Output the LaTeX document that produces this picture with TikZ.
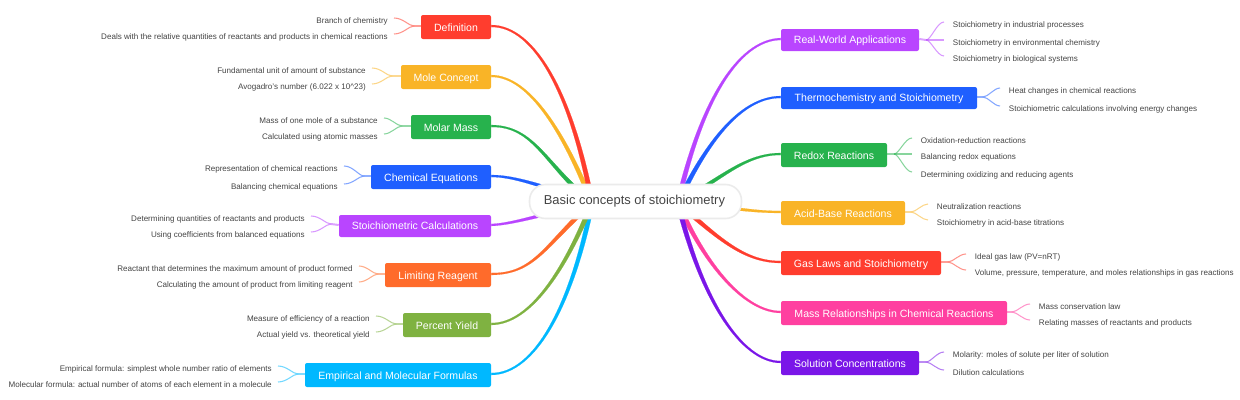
\documentclass[tikz,border=0pt]{standalone}
\usepackage{fontspec}
\setmainfont{Liberation Sans}
\definecolor{cRed}{HTML}{FF3D2E}
\definecolor{cYellow}{HTML}{F9B427}
\definecolor{cGreen}{HTML}{27B24D}
\definecolor{cBlue}{HTML}{1F5FFF}
\definecolor{cPurple}{HTML}{B945FF}
\definecolor{cOrange}{HTML}{FF6B2B}
\definecolor{cOlive}{HTML}{7FB241}
\definecolor{cCyan}{HTML}{00B8FF}
\definecolor{cPink}{HTML}{FF40A0}
\definecolor{cViolet}{HTML}{7A16E8}
\definecolor{cText}{HTML}{444444}
\tikzset{
  branchbox/.style={rectangle,rounded corners=1.5pt,fill=#1,text=white,inner sep=0pt,
    font=\fontsize{7.9pt}{10pt}\selectfont,text height=7.8pt,text depth=1.7pt},
  leafL/.style={anchor=east,inner ysep=0pt,inner xsep=4.5pt,text=cText,
    font=\fontsize{6.05pt}{8pt}\selectfont,text height=5.8pt,text depth=1.3pt},
  leafR/.style={anchor=west,inner ysep=0pt,inner xsep=6.5pt,text=cText,
    font=\fontsize{6.05pt}{8pt}\selectfont,text height=5.8pt,text depth=1.3pt},
  spine/.style={line width=.1pt},
  stem/.style={line width=1.5pt,opacity=.5},
  twig/.style={line width=.8pt,opacity=.55},
  rootbox/.style={rectangle,rounded corners=12pt,fill=white,draw=black!8,line width=1.2pt,
    text=cText,font=\fontsize{9.7pt}{13pt}\selectfont,inner sep=0pt}
}
% box: name, colour, x1, x2, y1, y2, text
\newcommand\bbox[7]{\node[branchbox=#2,minimum width=#4*.75pt-#3*.75pt,minimum height=#6*.75pt-#5*.75pt]
  (#1) at ({(#3+#4)/2},{(#5+#6)/2}) {#7};}
\newcommand\stemL[4]{\draw[stem,#2] ([yshift=.75pt]#1.west) -- (#3,#4);}
\newcommand\stemR[4]{\draw[stem,#2] ([yshift=.75pt]#1.east) -- (#3,#4);}
\newcommand\twigL[5]{\draw[twig,#1] (#2,#3) .. controls (#2-5,#3) and (#2-11,#4) .. ([yshift=1.5pt]#5.east);}
\newcommand\twigR[5]{\draw[twig,#1] (#2,#3) .. controls (#2+5,#3) and (#2+11,#4) .. ([yshift=1.5pt]#5.west);}
% tapered main connector: colour, start node anchor, c1x, c1y, c2x, c2y, hub name, hub x, hub y
\newcommand\spineT[9]{%
  \pgfmathsetmacro\sgn{(#5>#3)?-1:1}%
  \pgfmathsetmacro\dxv{#8-#5}\pgfmathsetmacro\dyv{#9-#6}%
  \pgfmathsetmacro\lenv{max(veclen(\dxv,\dyv),.01)}%
  \pgfmathsetmacro\nxv{-\sgn*\dyv/\lenv*2.5}\pgfmathsetmacro\nyv{\sgn*\dxv/\lenv*2.5}%
  \pgfmathsetmacro\cxa{#5+.62*\nxv}\pgfmathsetmacro\cya{#6+.62*\nyv}%
  \pgfmathsetmacro\cxb{#5-.62*\nxv}\pgfmathsetmacro\cyb{#6-.62*\nyv}%
  \pgfmathsetmacro\dxu{#5-#3}\pgfmathsetmacro\dyu{#6-#4}%
  \pgfmathsetmacro\lenu{max(veclen(\dxu,\dyu),.01)}%
  \pgfmathsetmacro\nxu{-\sgn*\dyu/\lenu*1.1}\pgfmathsetmacro\nyu{\sgn*\dxu/\lenu*1.1}%
  \draw[spine,draw=#1,fill=#1] ([shift={(0,-2.0)}]#2) .. controls (#3+\nxu,#4+\nyu) and (\cxa,\cya) .. ([shift={(\nxv,\nyv)}]#7)
    -- ([shift={(-\nxv,-\nyv)}]#7) .. controls (\cxb,\cyb) and (#3-\nxu,#4-\nyu) .. ([shift={(0,0)}]#2) -- cycle;}
\begin{document}
\begin{tikzpicture}[x=.75pt,y=-.75pt]
\useasboundingbox (0,0) rectangle (1240,400);
\coordinate (hubL) at (592,203);
\coordinate (hubR) at (678,203);
% boxes
\bbox{def}{cRed}{421}{491}{15}{39}{Definition}
\bbox{mole}{cYellow}{401}{491}{65}{89}{Mole Concept}
\bbox{molar}{cGreen}{411}{491}{115}{139}{Molar Mass}
\bbox{chem}{cBlue}{371}{491}{165}{189}{Chemical Equations}
\bbox{calc}{cPurple}{339}{491}{215}{237}{\raisebox{.75pt}{Stoichiometric Calculations}}
\bbox{limit}{cOrange}{385}{491}{263}{287}{Limiting Reagent}
\bbox{yield}{cOlive}{403}{491}{313}{337}{Percent Yield}
\bbox{emp}{cCyan}{305}{491}{363}{387}{Empirical and Molecular Formulas}
\bbox{real}{cPurple}{781}{919}{29}{51}{\raisebox{.75pt}{Real-World Applications}}
\bbox{thermo}{cBlue}{781}{977}{87}{109}{\raisebox{.75pt}{Thermochemistry and Stoichiometry}}
\bbox{redox}{cGreen}{781}{887}{143}{167}{Redox Reactions}
\bbox{acid}{cYellow}{781}{905}{201}{225}{Acid-Base Reactions}
\bbox{gas}{cRed}{781}{941}{251}{275}{Gas Laws and Stoichiometry}
\bbox{mass}{cPink}{781}{1007}{301}{325}{Mass Relationships in Chemical Reactions}
\bbox{sol}{cViolet}{781}{919}{351}{375}{Solution Concentrations}
% leaves
\node[leafL] (l1a) at (394,20) {Branch of chemistry};
\node[leafL] (l1b) at (394,36) {Deals with the relative quantities of reactants and products in chemical reactions};
\node[leafL] (l2a) at (372,70) {Fundamental unit of amount of substance};
\node[leafL] (l2b) at (372,86) {Avogadro's number (6.022 x 10\textasciicircum 23)};
\node[leafL] (l3a) at (384,120) {Mass of one mole of a substance};
\node[leafL] (l3b) at (384,136) {Calculated using atomic masses};
\node[leafL] (l4a) at (344,168) {Representation of chemical reactions};
\node[leafL] (l4b) at (344,186) {Balancing chemical equations};
\node[leafL] (l5a) at (311,218) {Determining quantities of reactants and products};
\node[leafL] (l5b) at (311,234) {Using coefficients from balanced equations};
\node[leafL] (l6a) at (359,268) {Reactant that determines the maximum amount of product formed};
\node[leafL] (l6b) at (359,284) {Calculating the amount of product from limiting reagent};
\node[leafL] (l7a) at (376,318) {Measure of efficiency of a reaction};
\node[leafL] (l7b) at (376,334) {Actual yield vs. theoretical yield};
\node[leafL] (l8a) at (278,368) {Empirical formula: simplest whole number ratio of elements};
\node[leafL] (l8b) at (278,384) {Molecular formula: actual number of atoms of each element in a molecule};
\node[leafR] (r1a) at (944,24) {Stoichiometry in industrial processes};
\node[leafR] (r1b) at (944,42) {Stoichiometry in environmental chemistry};
\node[leafR] (r1c) at (944,58) {Stoichiometry in biological systems};
\node[leafR] (r2a) at (1000,90) {Heat changes in chemical reactions};
\node[leafR] (r2b) at (1000,108) {Stoichiometric calculations involving energy changes};
\node[leafR] (r3a) at (912,140) {Oxidation-reduction reactions};
\node[leafR] (r3b) at (912,156) {Balancing redox equations};
\node[leafR] (r3c) at (912,174) {Determining oxidizing and reducing agents};
\node[leafR] (r4a) at (928,206) {Neutralization reactions};
\node[leafR] (r4b) at (928,222) {Stoichiometry in acid-base titrations};
\node[leafR] (r5a) at (966,256) {Ideal gas law (PV=nRT)};
\node[leafR] (r5b) at (966,272) {Volume, pressure, temperature, and moles relationships in gas reactions};
\node[leafR] (r6a) at (1030,306) {Mass conservation law};
\node[leafR] (r6b) at (1030,322) {Relating masses of reactants and products};
\node[leafR] (r7a) at (944,354) {Molarity: moles of solute per liter of solution};
\node[leafR] (r7b) at (944,372) {Dilution calculations};
% forks
\stemL{def}{cRed}{414}{26}\twigL{cRed}{414}{26}{18}{l1a}\twigL{cRed}{414}{26}{34}{l1b}
\stemL{mole}{cYellow}{392}{76}\twigL{cYellow}{392}{76}{68}{l2a}\twigL{cYellow}{392}{76}{84}{l2b}
\stemL{molar}{cGreen}{402}{126}\twigL{cGreen}{402}{126}{118}{l3a}\twigL{cGreen}{402}{126}{134}{l3b}
\stemL{chem}{cBlue}{364}{176}\twigL{cBlue}{364}{176}{166}{l4a}\twigL{cBlue}{364}{176}{184}{l4b}
\stemL{calc}{cPurple}{331}{224}\twigL{cPurple}{331}{224}{216}{l5a}\twigL{cPurple}{331}{224}{232}{l5b}
\stemL{limit}{cOrange}{378}{274}\twigL{cOrange}{378}{274}{266}{l6a}\twigL{cOrange}{378}{274}{282}{l6b}
\stemL{yield}{cOlive}{396}{324}\twigL{cOlive}{396}{324}{316}{l7a}\twigL{cOlive}{396}{324}{332}{l7b}
\stemL{emp}{cCyan}{298}{374}\twigL{cCyan}{298}{374}{366}{l8a}\twigL{cCyan}{298}{374}{382}{l8b}
\stemR{real}{cPurple}{926}{40}\twigR{cPurple}{926}{40}{22}{r1a}\twigR{cPurple}{926}{40}{40}{r1b}\twigR{cPurple}{926}{40}{56}{r1c}
\stemR{thermo}{cBlue}{983}{97}\twigR{cBlue}{983}{97}{88}{r2a}\twigR{cBlue}{983}{97}{106}{r2b}
\stemR{redox}{cGreen}{894}{154}\twigR{cGreen}{894}{154}{138}{r3a}\twigR{cGreen}{894}{154}{154}{r3b}\twigR{cGreen}{894}{154}{172}{r3c}
\stemR{acid}{cYellow}{911}{212}\twigR{cYellow}{911}{212}{204}{r4a}\twigR{cYellow}{911}{212}{220}{r4b}
\stemR{gas}{cRed}{948}{262}\twigR{cRed}{948}{262}{254}{r5a}\twigR{cRed}{948}{262}{270}{r5b}
\stemR{mass}{cPink}{1012}{312}\twigR{cPink}{1012}{312}{304}{r6a}\twigR{cPink}{1012}{312}{320}{r6b}
\stemR{sol}{cViolet}{926}{362}\twigR{cViolet}{926}{362}{352}{r7a}\twigR{cViolet}{926}{362}{370}{r7b}
% spines
\spineT{cCyan}{emp.east}{535}{374}{572}{305}{hubL}{592}{203}
\spineT{cOlive}{yield.east}{530}{324}{565}{270}{hubL}{592}{203}
\spineT{cOrange}{limit.east}{535}{274}{545}{245}{hubL}{592}{203}
\spineT{cPurple}{calc.east}{513}{224}{540}{215}{hubL}{592}{203}
\spineT{cBlue}{chem.east}{513}{176}{540}{185}{hubL}{592}{203}
\spineT{cGreen}{molar.east}{535}{126}{545}{165}{hubL}{592}{203}
\spineT{cYellow}{mole.east}{530}{76}{565}{135}{hubL}{592}{203}
\spineT{cRed}{def.east}{535}{26}{572}{95}{hubL}{592}{203}
\spineT{cPink}{mass.west}{745}{312}{705}{265}{hubR}{678}{203}
\spineT{cViolet}{sol.west}{740}{362}{700}{295}{hubR}{678}{203}
\spineT{cRed}{gas.west}{745}{262}{720}{240}{hubR}{678}{203}
\spineT{cYellow}{acid.west}{750}{212}{730}{207}{hubR}{678}{203}
\spineT{cGreen}{redox.west}{745}{154}{722}{178}{hubR}{678}{203}
\spineT{cPurple}{real.west}{737}{40}{700}{105}{hubR}{678}{203}
\spineT{cBlue}{thermo.west}{740}{97}{705}{145}{hubR}{678}{203}
% root
\node[rootbox,minimum width=159pt,minimum height=25.5pt] (root) at (635.5,201.5) {Basic concepts of stoichiometry\kern1.6pt};
\end{tikzpicture}
\end{document}
